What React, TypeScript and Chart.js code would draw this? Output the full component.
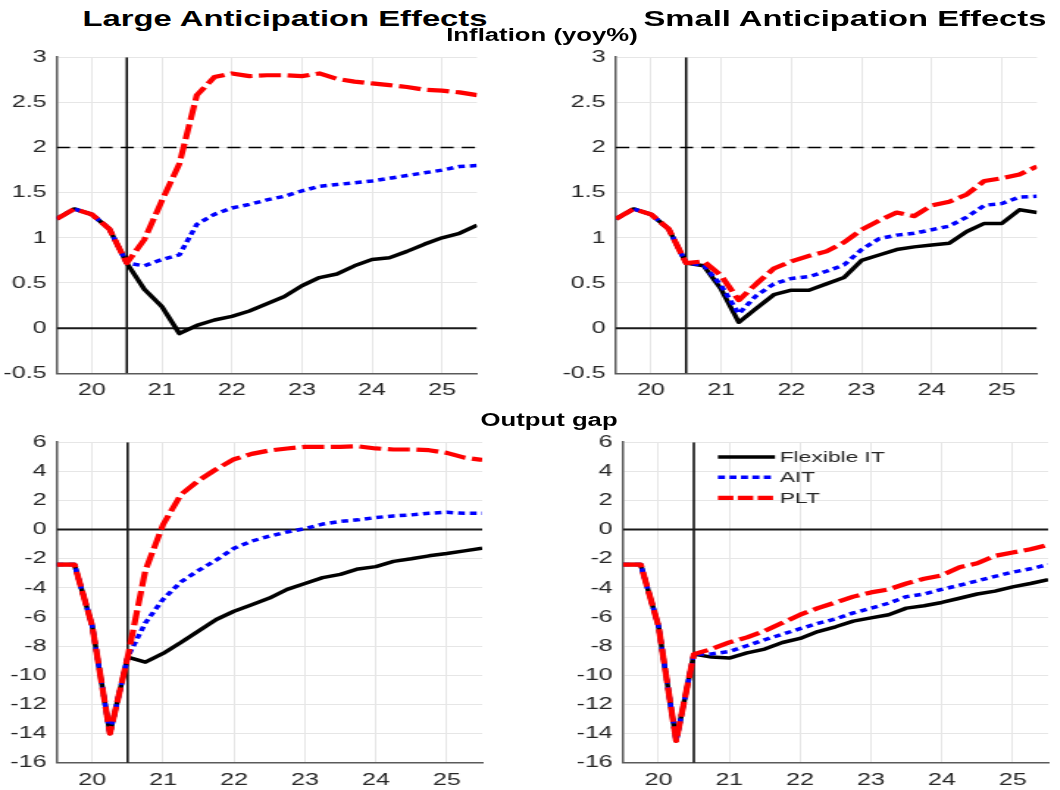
import React, { useEffect, useRef } from "react";
import { Chart, registerables } from "chart.js";

Chart.register(...registerables);

// ---------- data ----------
const quarters = [19.5, 19.75, 20, 20.25, 20.5, 20.75, 21, 21.25, 21.5, 21.75, 22, 22.25, 22.5, 22.75, 23, 23.25, 23.5, 23.75, 24, 24.25, 24.5, 24.75, 25, 25.25, 25.5];
const xRange = [19.5, 25.5];
const yearTicks = [20, 21, 22, 23, 24, 25];
const shockDate = 20.5;
const inflationTarget = 2;
const inflationTicks = [-0.5, 0, 0.5, 1, 1.5, 2, 2.5, 3];
const gapTicks = [-16, -14, -12, -10, -8, -6, -4, -2, 0, 2, 4, 6];
const seriesNames = ["Flexible IT", "AIT", "PLT"];
const panelTitles = ["Large Anticipation Effects", "Small Anticipation Effects"];
const rowTitles = ["Inflation (yoy%)", "Output gap"];

const inflLargeFlex = [1.21, 1.32, 1.26, 1.1, 0.72, 0.43, 0.24, -0.06, 0.03, 0.09, 0.13, 0.19, 0.27, 0.35, 0.47, 0.56, 0.6, 0.69, 0.76, 0.78, 0.85, 0.93, 1.0, 1.05, 1.14];
const inflLargeAit = [1.21, 1.32, 1.26, 1.1, 0.72, 0.69, 0.76, 0.81, 1.15, 1.26, 1.33, 1.37, 1.42, 1.46, 1.52, 1.57, 1.59, 1.61, 1.63, 1.66, 1.69, 1.72, 1.75, 1.79, 1.8];
const inflLargePlt = [1.21, 1.32, 1.26, 1.1, 0.72, 0.98, 1.41, 1.82, 2.58, 2.78, 2.82, 2.79, 2.8, 2.8, 2.79, 2.82, 2.76, 2.73, 2.71, 2.69, 2.67, 2.64, 2.63, 2.61, 2.58];

const inflSmallFlex = [1.21, 1.32, 1.26, 1.1, 0.72, 0.69, 0.43, 0.065, 0.22, 0.37, 0.42, 0.42, 0.49, 0.56, 0.75, 0.81, 0.87, 0.9, 0.92, 0.94, 1.07, 1.16, 1.16, 1.31, 1.28];
const inflSmallAit = [1.21, 1.32, 1.26, 1.1, 0.72, 0.7, 0.47, 0.16, 0.36, 0.49, 0.55, 0.57, 0.63, 0.7, 0.87, 0.99, 1.03, 1.05, 1.09, 1.13, 1.23, 1.36, 1.38, 1.45, 1.46];
const inflSmallPlt = [1.21, 1.32, 1.26, 1.1, 0.72, 0.74, 0.58, 0.31, 0.49, 0.66, 0.74, 0.8, 0.85, 0.95, 1.09, 1.19, 1.28, 1.24, 1.36, 1.4, 1.48, 1.63, 1.66, 1.7, 1.79];

const gapLargeFlex = [-2.4, -2.4, -6.6, -14.0, -8.75, -9.1, -8.5, -7.75, -6.96, -6.17, -5.6, -5.16, -4.7, -4.1, -3.7, -3.3, -3.07, -2.7, -2.54, -2.18, -2.0, -1.8, -1.64, -1.46, -1.28];
const gapLargeAit = [-2.4, -2.4, -6.6, -14.0, -8.75, -6.4, -4.78, -3.59, -2.8, -2.09, -1.28, -0.79, -0.45, -0.16, 0.07, 0.38, 0.56, 0.67, 0.83, 0.94, 1.01, 1.12, 1.19, 1.12, 1.12];
const gapLargePlt = [-2.4, -2.4, -6.6, -14.0, -8.75, -2.8, 0.35, 2.4, 3.37, 4.15, 4.83, 5.2, 5.43, 5.57, 5.68, 5.68, 5.68, 5.72, 5.57, 5.5, 5.5, 5.45, 5.27, 4.94, 4.78];

const gapSmallFlex = [-2.4, -2.4, -6.6, -14.5, -8.55, -8.75, -8.82, -8.46, -8.2, -7.75, -7.47, -7.0, -6.67, -6.28, -6.06, -5.84, -5.39, -5.23, -5.0, -4.71, -4.42, -4.22, -3.93, -3.7, -3.43];
const gapSmallAit = [-2.4, -2.4, -6.6, -14.5, -8.55, -8.53, -8.37, -7.97, -7.56, -7.18, -6.8, -6.44, -6.13, -5.72, -5.39, -5.05, -4.6, -4.42, -4.1, -3.82, -3.52, -3.21, -2.92, -2.69, -2.4];
const gapSmallPlt = [-2.4, -2.4, -6.6, -14.5, -8.55, -8.2, -7.74, -7.4, -6.96, -6.4, -5.84, -5.39, -5.0, -4.6, -4.31, -4.1, -3.7, -3.37, -3.14, -2.58, -2.31, -1.8, -1.57, -1.35, -1.05];

// ---------- styling / layout ----------
const STRETCH = 1.47;
const FONT = '"Liberation Sans", Arial, Helvetica, sans-serif';
const TICK_COLOR = "#262626";

type Box = { left: number; top: number; width: number; height: number };
type Area = { left: number; right: number; top: number; bottom: number };
type PanelSpec = {
  flex: number[];
  ait: number[];
  plt: number[];
  yTicks: number[];
  target: number | null;
  box: Box;
  area: Area;
  legend: boolean;
};

const lineStyles = [
  { color: "#000000", width: 3.5, dash: [] as number[], order: 2, legendDash: [] as number[] },
  { color: "#0000ff", width: 3.5, dash: [4.6, 3.4], order: 1, legendDash: [4.8, 3] },
  { color: "#ff0000", width: 4.2, dash: [15, 4.5], order: 0, legendDash: [10.5, 3] },
];

const insideLegend = {
  id: "insideLegend",
  afterDatasetsDraw(chart: any) {
    const { ctx, chartArea } = chart;
    const rows = [14.7, 35, 55.7];
    const x0 = chartArea.left + 64.6;
    const x1 = x0 + 38.8;
    ctx.save();
    for (let i = 0; i < 3; i++) {
      const st = lineStyles[i];
      const y = chartArea.top + rows[i];
      ctx.beginPath();
      ctx.strokeStyle = st.color;
      ctx.lineWidth = st.width;
      ctx.lineCap = "butt";
      ctx.setLineDash(st.legendDash);
      ctx.moveTo(x0, y);
      ctx.lineTo(x1, y);
      ctx.stroke();
      ctx.setLineDash([]);
      ctx.fillStyle = TICK_COLOR;
      ctx.font = `15.5px ${FONT}`;
      ctx.textBaseline = "middle";
      ctx.textAlign = "left";
      ctx.fillText(chart.data.datasets[i].label, x1 + 3.2, y + 0.5);
    }
    ctx.restore();
  },
};

function buildConfig(p: PanelSpec): any {
  const pts = (vals: number[]) => quarters.map((q, i) => ({ x: q, y: vals[i] }));
  const yMin = p.yTicks[0];
  const yMax = p.yTicks[p.yTicks.length - 1];
  const series = [p.flex, p.ait, p.plt];
  const datasets: any[] = series.map((vals, i) => ({
    label: seriesNames[i],
    data: pts(vals),
    borderColor: lineStyles[i].color,
    borderWidth: lineStyles[i].width,
    borderDash: lineStyles[i].dash,
    order: lineStyles[i].order,
  }));
  datasets.push({
    label: "zero",
    data: [{ x: xRange[0], y: 0 }, { x: xRange[1], y: 0 }],
    borderColor: "#1a1a1a",
    borderWidth: 2,
    order: 5,
  });
  datasets.push({
    label: "shock",
    data: [{ x: shockDate, y: yMin }, { x: shockDate, y: yMax }],
    borderColor: "#000000",
    borderWidth: 1.5,
    order: 5,
  });
  if (p.target !== null) {
    datasets.push({
      label: "target",
      data: [{ x: xRange[0], y: p.target }, { x: xRange[1], y: p.target }],
      borderColor: "#000000",
      borderWidth: 1.3,
      borderDash: [9, 5.5],
      order: 5,
    });
  }
  datasets.forEach((d) => {
    d.pointRadius = 0;
    d.fill = false;
    d.tension = 0;
    d.borderCapStyle = "butt";
    d.borderJoinStyle = "round";
  });

  const tickFont = { family: FONT, size: 17 };
  return {
    type: "line",
    data: { datasets },
    options: {
      animation: false,
      responsive: false,
      maintainAspectRatio: false,
      events: [],
      layout: {
        padding: { left: 0, top: p.area.top, right: p.box.width - p.area.right, bottom: 0 },
      },
      plugins: {
        legend: { display: false },
        tooltip: { enabled: false },
        title: { display: false },
      },
      scales: {
        x: {
          type: "linear",
          min: xRange[0],
          max: xRange[1],
          afterBuildTicks: (s: any) => {
            s.ticks = yearTicks.map((v) => ({ value: v }));
          },
          afterFit: (s: any) => {
            s.height = p.box.height - p.area.bottom;
          },
          ticks: {
            autoSkip: false,
            maxRotation: 0,
            padding: 7,
            color: TICK_COLOR,
            font: tickFont,
            callback: (v: any) => String(v),
          },
          grid: { color: "#e6e6e6", lineWidth: 1, drawTicks: false },
          border: { color: "#5a5a5a", width: 1.5 },
        },
        y: {
          type: "linear",
          min: yMin,
          max: yMax,
          afterBuildTicks: (s: any) => {
            s.ticks = p.yTicks.map((v) => ({ value: v }));
          },
          afterFit: (s: any) => {
            s.width = p.area.left;
          },
          ticks: {
            autoSkip: false,
            padding: 7,
            color: TICK_COLOR,
            font: tickFont,
            callback: (v: any) => String(v),
          },
          grid: { color: "#e6e6e6", lineWidth: 1, drawTicks: false },
          border: { color: "#5a5a5a", width: 1.5 },
        },
      },
    },
    plugins: p.legend ? [insideLegend] : [],
  };
}

const panels: PanelSpec[] = [
  {
    flex: inflLargeFlex, ait: inflLargeAit, plt: inflLargePlt,
    yTicks: inflationTicks, target: inflationTarget,
    box: { left: 0, top: 40, width: 340, height: 360 },
    area: { left: 38.6, right: 324.5, top: 10.7, bottom: 333.3 },
    legend: false,
  },
  {
    flex: inflSmallFlex, ait: inflSmallAit, plt: inflSmallPlt,
    yTicks: inflationTicks, target: inflationTarget,
    box: { left: 380, top: 40, width: 340, height: 360 },
    area: { left: 39.0, right: 325.4, top: 10.7, bottom: 333.3 },
    legend: false,
  },
  {
    flex: gapLargeFlex, ait: gapLargeAit, plt: gapLargePlt,
    yTicks: gapTicks, target: null,
    box: { left: 0, top: 425, width: 340, height: 365 },
    area: { left: 38.6, right: 328.0, top: 11, bottom: 337.7 },
    legend: false,
  },
  {
    flex: gapSmallFlex, ait: gapSmallAit, plt: gapSmallPlt,
    yTicks: gapTicks, target: null,
    box: { left: 380, top: 425, width: 341, height: 365 },
    area: { left: 43.8, right: 333.0, top: 11, bottom: 337.7 },
    legend: true,
  },
];

function Panel({ spec }: { spec: PanelSpec }) {
  const ref = useRef<HTMLCanvasElement>(null);
  useEffect(() => {
    const chart = new Chart(ref.current as HTMLCanvasElement, buildConfig(spec));
    return () => chart.destroy();
  }, [spec]);
  return (
    <canvas
      ref={ref}
      width={spec.box.width}
      height={spec.box.height}
      style={{
        position: "absolute",
        left: spec.box.left,
        top: spec.box.top,
        width: spec.box.width,
        height: spec.box.height,
      }}
    />
  );
}

function Label({ text, cx, top, size }: { text: string; cx: number; top: number; size: number }) {
  return (
    <div
      style={{
        position: "absolute",
        left: cx - 200,
        top,
        width: 400,
        textAlign: "center",
        font: `bold ${size}px ${FONT}`,
        lineHeight: 1,
        whiteSpace: "nowrap",
        color: "#000",
      }}
    >
      {text}
    </div>
  );
}

export default function App() {
  return (
    <div
      style={{
        position: "absolute",
        left: 0,
        top: 0,
        width: 1060 / STRETCH,
        height: 790,
        transform: `scaleX(${STRETCH})`,
        transformOrigin: "0 0",
        background: "#ffffff",
        overflow: "hidden",
      }}
    >
      {panels.map((p, i) => (
        <Panel key={i} spec={p} />
      ))}
      <Label text={panelTitles[0]} cx={193.9} top={7.6} size={22.3} />
      <Label text={panelTitles[1]} cx={574.8} top={7.6} size={22.3} />
      <Label text={rowTitles[0]} cx={368.7} top={26.9} size={17.5} />
      <Label text={rowTitles[1]} cx={373.5} top={411.9} size={17.5} />
    </div>
  );
}
